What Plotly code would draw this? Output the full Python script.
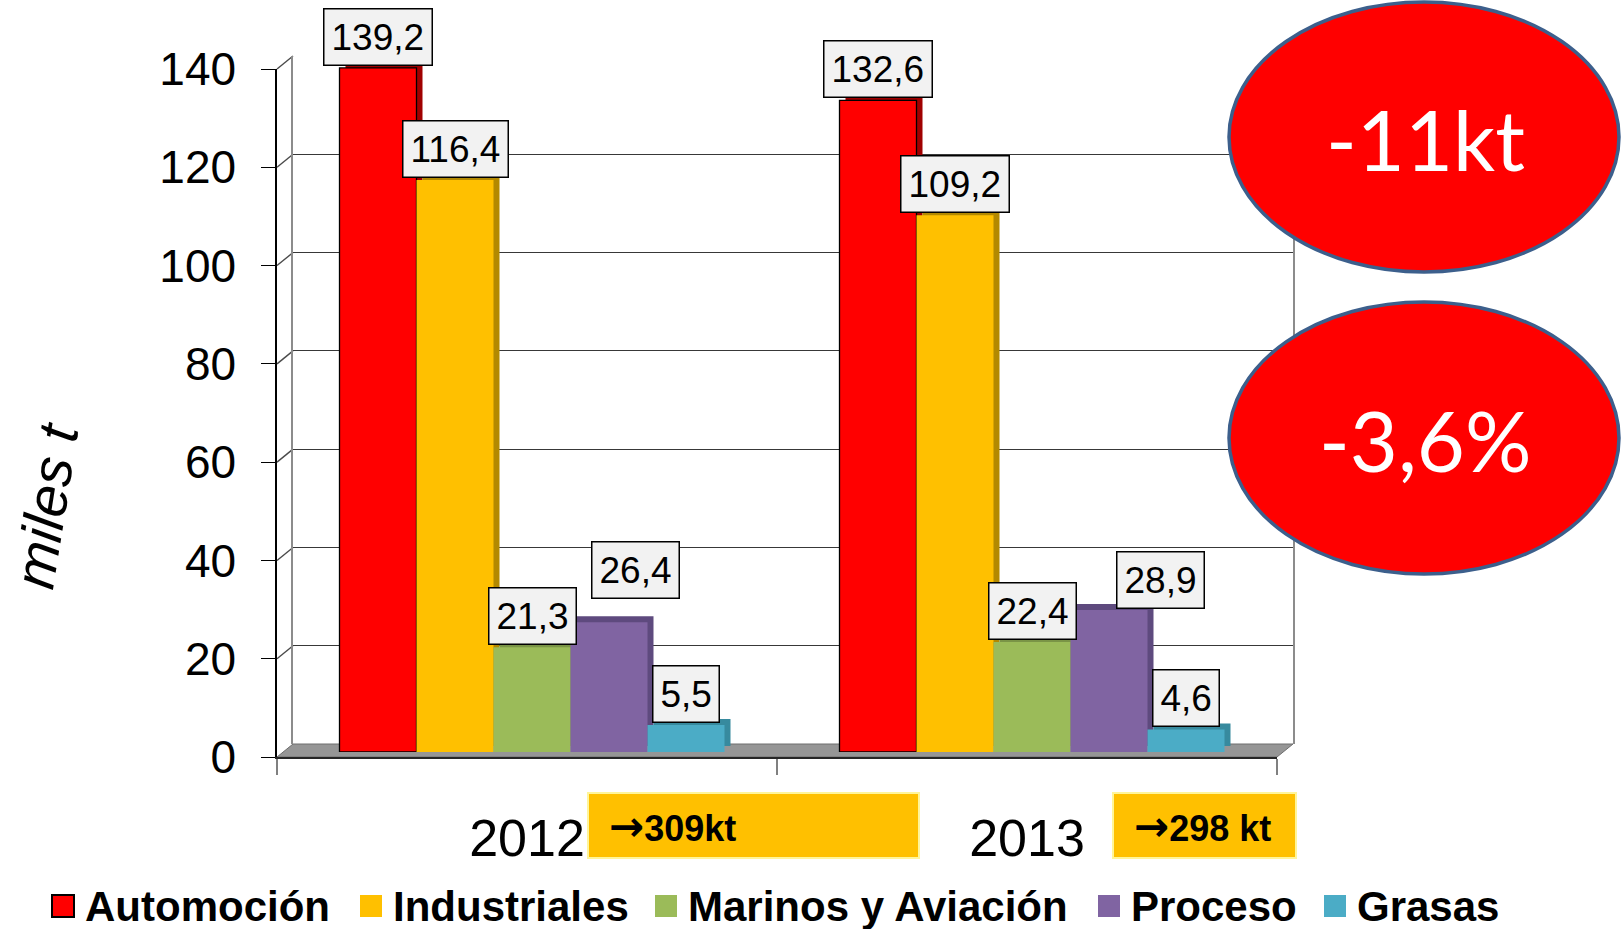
import plotly.graph_objects as go

# ---------------- data ----------------
years = ["2012", "2013"]
segments = ["Automoción", "Industriales", "Marinos y Aviación", "Proceso", "Grasas"]
automocion = [139.2, 132.6]
industriales = [116.4, 109.2]
marinos_aviacion = [21.3, 22.4]
proceso = [26.4, 28.9]
grasas = [5.5, 4.6]
totals_values = ["309kt", "298 kt"]
badge_labels = ["-11kt", "-3,6%"]
y_tick_values = [0, 20, 40, 60, 80, 100, 120, 140]
y_axis_title = "miles t"

series = [automocion, industriales, marinos_aviacion, proceso, grasas]

# ---------------- styles ----------------
FACE = ["#FF0000", "#FFC000", "#9BBB59", "#8064A2", "#4BACC6"]
SIDE = ["#A00000", "#B38900", "#7A9446", "#5E4A7E", "#378A9E"]
FONT = "Liberation Sans, Arial, sans-serif"
BADGE_FONT = "Lato, Open Sans, sans-serif"

W, H = 1622, 929
Y_MAX = 140
BARGAP = 0.23


def fx(p):
    return p / W


def fy(p):
    return 1 - p / H


FRONT_X0, FRONT_X1 = 277, 1277      # pixel columns of the front plane
FRONT_Y0, FRONT_Y1 = 757, 69        # pixel rows of y=0 and y=Y_MAX on the front plane


def plane(dx, dy):
    return dict(x=[fx(FRONT_X0 + dx), fx(FRONT_X1 + dx)],
                y=[fy(FRONT_Y0 + dy), fy(FRONT_Y1 + dy)])


def plane_y(v, dy):
    return fy(FRONT_Y0 + dy - v * (FRONT_Y0 - FRONT_Y1) / Y_MAX)


WALL_D = (16, -13)
SHADOW_D = (11, -11)
BAR_D = (5, -5)
WALL = plane(*WALL_D)
SHADOW = plane(*SHADOW_D)
BARS = plane(*BAR_D)
FRONT = plane(0, 0)

fig = go.Figure()

# back wall subplot (carries the gridlines)
fig.add_trace(go.Scatter(x=years, y=[0] * len(years), xaxis="x", yaxis="y", mode="markers",
                         marker=dict(opacity=0), hoverinfo="skip", showlegend=False))
# 3D depth faces
for j, vals in enumerate(series):
    fig.add_trace(go.Bar(x=years, y=vals, xaxis="x2", yaxis="y2", marker=dict(color=SIDE[j], line=dict(width=0)),
                         hoverinfo="skip", showlegend=False))
# front faces
for j, (name, vals) in enumerate(zip(segments, series)):
    fig.add_trace(go.Bar(x=years, y=vals, name=name, xaxis="x3", yaxis="y3",
                         marker=dict(color=FACE[j],
                                     line=dict(color="#000000" if j == 0 else FACE[j], width=1.3 if j == 0 else 0)),
                         showlegend=False))
# front axes subplot
fig.add_trace(go.Scatter(x=years, y=[0] * len(years), xaxis="x4", yaxis="y4", mode="markers",
                         marker=dict(opacity=0), hoverinfo="skip", showlegend=False))

cat = dict(type="category", range=[-0.5, len(years) - 0.5], fixedrange=True)
hidden_y = dict(range=[0, Y_MAX], visible=False, fixedrange=True)

shapes = []
annotations = []

# floor
shapes.append(dict(type="path", xref="paper", yref="paper", layer="below",
                   path=(f"M {fx(FRONT_X0)},{plane_y(0, 0)} L {fx(FRONT_X1)},{plane_y(0, 0)} "
                         f"L {fx(FRONT_X1 + WALL_D[0])},{plane_y(0, WALL_D[1])} "
                         f"L {fx(FRONT_X0 + WALL_D[0])},{plane_y(0, WALL_D[1])} Z"),
                   fillcolor="#969696", line=dict(color="#6E6E6E", width=1)))
# side-wall connectors from front ticks to back wall gridlines
for v in y_tick_values[1:]:
    shapes.append(dict(type="line", xref="paper", yref="paper", layer="below",
                       x0=fx(FRONT_X0), y0=plane_y(v, 0),
                       x1=fx(FRONT_X0 + WALL_D[0]), y1=plane_y(v, WALL_D[1]),
                       line=dict(color="#4A4A4A", width=1.4)))

# data labels
bar_w = (1 - BARGAP) / len(segments)
label_nudge = {(0, 3): (26, 21), (1, 3): (51, -1)}
for i in range(len(years)):
    for j, vals in enumerate(series):
        dxs, dys = label_nudge.get((i, j), (0, 0))
        annotations.append(dict(
            x=i + (j - (len(segments) - 1) / 2) * bar_w, y=vals[i], xref="x3", yref="y3",
            text=f"{vals[i]:.1f}".replace(".", ","), showarrow=False,
            xanchor="center", yanchor="bottom", xshift=dxs, yshift=2 + dys,
            font=dict(family=FONT, size=37, color="#000000"),
            bgcolor="#F2F2F2", bordercolor="#000000", borderwidth=1.5, borderpad=7))

# totals boxes
total_boxes = [(588, 919), (1113, 1296)]
ARROW = "<span style='font-family:DejaVu Sans;font-size:42px'>\u2192</span>"
for (x0, x1), txt in zip(total_boxes, totals_values):
    shapes.append(dict(type="rect", xref="paper", yref="paper", x0=fx(x0), x1=fx(x1), y0=fy(858), y1=fy(793),
                       fillcolor="#FFC000", line=dict(color="#FFF59A", width=2)))
    annotations.append(dict(x=fx(x0 + 19), y=fy(826), xref="paper", yref="paper", text=f"<b>{ARROW}{txt}</b>",
                            showarrow=False, xanchor="left", yanchor="middle",
                            font=dict(family=FONT, size=36, color="#000000")))

# red badges
badge_rows = [(2, 272), (302, 574)]
for (y0, y1), txt in zip(badge_rows, badge_labels):
    shapes.append(dict(type="circle", xref="paper", yref="paper", x0=fx(1229), x1=fx(1619), y0=fy(y1), y1=fy(y0),
                       fillcolor="#FF0000", line=dict(color="#3C5F8C", width=3.5)))
    annotations.append(dict(x=fx(1425), y=fy((y0 + y1) / 2 + 2), xref="paper", yref="paper", text=txt,
                            showarrow=False, xanchor="center", yanchor="middle",
                            font=dict(family=BADGE_FONT, size=83, color="#FFFFFF")))

# y axis title
annotations.append(dict(x=fx(46), y=fy(506), xref="paper", yref="paper", text=f"<i>{y_axis_title}</i>",
                        showarrow=False, textangle=-81, xanchor="center", yanchor="middle",
                        font=dict(family=FONT, size=57, color="#000000")))

# legend (drawn by hand for large swatches)
legend_x = [52, 360, 655, 1098, 1324]
for j, (name, lx) in enumerate(zip(segments, legend_x)):
    shapes.append(dict(type="rect", xref="paper", yref="paper", x0=fx(lx), x1=fx(lx + 22), y0=fy(917), y1=fy(895),
                       fillcolor=FACE[j],
                       line=dict(color="#000000" if j == 0 else FACE[j], width=2 if j == 0 else 0)))
    annotations.append(dict(x=fx(lx + 31), y=fy(906), xref="paper", yref="paper", text=f"<b>{name}</b>",
                            showarrow=False, xanchor="left", yanchor="middle",
                            font=dict(family=FONT, size=42, color="#000000")))

fig.update_layout(
    width=W, height=H, autosize=False,
    margin=dict(l=0, r=0, t=0, b=0, pad=0, autoexpand=False),
    paper_bgcolor="#FFFFFF", plot_bgcolor="rgba(0,0,0,0)",
    barmode="group", bargap=BARGAP, bargroupgap=0,
    showlegend=False,
    font=dict(family=FONT, color="#000000"),
    xaxis=dict(domain=WALL["x"], anchor="y", visible=False, **cat),
    yaxis=dict(domain=WALL["y"], anchor="x", range=[0, Y_MAX], tickvals=y_tick_values, showgrid=True,
               gridcolor="#383838", gridwidth=1.4, showticklabels=False, ticks="", zeroline=False,
               showline=True, mirror=True, linecolor="#8C8C8C", linewidth=1.5, fixedrange=True),
    xaxis2=dict(domain=SHADOW["x"], anchor="y2", visible=False, **cat),
    yaxis2=dict(domain=SHADOW["y"], anchor="x2", **hidden_y),
    xaxis3=dict(domain=BARS["x"], anchor="y3", visible=False, **cat),
    yaxis3=dict(domain=BARS["y"], anchor="x3", **hidden_y),
    xaxis4=dict(domain=FRONT["x"], anchor="y4", showline=True, linecolor="#262626", linewidth=1.5,
                ticks="outside", tickson="boundaries", ticklen=16, tickcolor="#808080", tickwidth=1.5,
                tickfont=dict(family=FONT, size=52, color="#000000"), ticklabelstandoff=35,
                showgrid=False, zeroline=False, **cat),
    yaxis4=dict(domain=FRONT["y"], anchor="x4", range=[0, Y_MAX], tickvals=y_tick_values,
                ticks="outside", ticklen=14, tickcolor="#000000", tickwidth=1.3,
                showline=True, linecolor="#000000", linewidth=1.5, showgrid=False, zeroline=False,
                tickfont=dict(family=FONT, size=46, color="#000000"), ticklabelstandoff=16, fixedrange=True),
    shapes=shapes,
    annotations=annotations,
)

fig.write_html(
    "out.html",
    config={"displayModeBar": False, "responsive": False},
    post_script="document.body.style.margin='0';document.body.style.overflow='hidden';",
)
